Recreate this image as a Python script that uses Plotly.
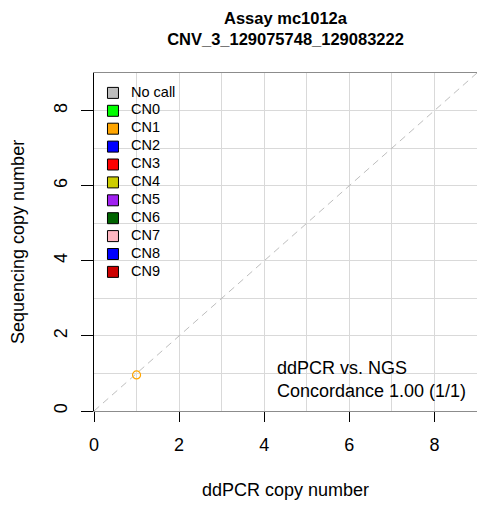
import plotly.graph_objects as go

# ---- data ----
legend_labels = ["No call", "CN0", "CN1", "CN2", "CN3", "CN4", "CN5", "CN6", "CN7", "CN8", "CN9"]
legend_colors = ["#BEBEBE", "#00FF00", "#FFA500", "#0000FF", "#FF0000", "#CDCD00",
                 "#A020F0", "#006400", "#FFB6C1", "#0000FF", "#CD0000"]
ddpcr_cn = [1.0]
ngs_cn = [0.96]
point_colors = ["#FFA500"]
tick_vals = [0, 2, 4, 6, 8]
axis_max = 9
title_lines = ["Assay mc1012a", "CNV_3_129075748_129083222"]
note_lines = ["ddPCR vs. NGS", "Concordance 1.00 (1/1)"]
x_title = "ddPCR copy number"
y_title = "Sequencing copy number"

FONT = "Liberation Sans, Arial, Helvetica, sans-serif"
W, H = 477, 506
L, R, T, B = 94, 0, 73, 95
PW, PH = W - L - R, H - T - B

fig = go.Figure()

# identity line
fig.add_trace(go.Scatter(x=[0, axis_max], y=[0, axis_max], mode="lines",
                         line=dict(color="#BEBEBE", width=1, dash="7px,5px"),
                         hoverinfo="skip", showlegend=False))

# data points
fig.add_trace(go.Scatter(x=ddpcr_cn, y=ngs_cn, mode="markers",
                         marker=dict(symbol="circle-open", size=8,
                                     color=point_colors, line=dict(width=1.2)),
                         showlegend=False))

# manual legend (R-style, inside plot)
n = len(legend_labels)
top_y = 8.47
step = 0.4766
ly = [top_y - i * step for i in range(n)]
fig.add_trace(go.Scatter(x=[0.446] * n, y=ly, mode="markers",
                         marker=dict(symbol="square", size=11, color=legend_colors,
                                     line=dict(color="black", width=1)),
                         hoverinfo="skip", showlegend=False))
fig.add_trace(go.Scatter(x=[0.87] * n, y=ly, mode="text", text=legend_labels,
                         textposition="middle right",
                         textfont=dict(family=FONT, size=14.5, color="black"),
                         hoverinfo="skip", showlegend=False))

fig.add_annotation(x=4.25, y=0.85, xref="x", yref="y", xanchor="left", yanchor="middle",
                   text="<br>".join(note_lines), align="left", showarrow=False,
                   font=dict(family=FONT, size=18, color="black"))

# axis titles
fig.add_annotation(x=0.5, y=(411 - 490) / PH, xref="paper", yref="paper",
                   xanchor="center", yanchor="middle", text=x_title, showarrow=False,
                   font=dict(family=FONT, size=18, color="black"))
fig.add_annotation(x=(18 - L) / PW, y=0.5, xref="paper", yref="paper",
                   xanchor="center", yanchor="middle", text=y_title, showarrow=False,
                   textangle=-90, font=dict(family=FONT, size=18, color="black"))

fig.update_layout(
    width=W, height=H,
    margin=dict(l=L, r=R, t=T, b=B, autoexpand=False),
    paper_bgcolor="white", plot_bgcolor="white",
    font=dict(family=FONT, color="black"),
    title=dict(text="<b>" + "<br>".join(title_lines) + "</b>",
               x=0.5, xref="paper", xanchor="center",
               y=1 - 24 / H, yanchor="middle",
               font=dict(family=FONT, size=16.5, color="black")),
    showlegend=False,
)

fig.update_xaxes(range=[0, axis_max], tickvals=tick_vals, ticks="outside", ticklen=10,
                 tickcolor="black", tickfont=dict(size=18), ticklabelstandoff=7,
                 showgrid=True, gridcolor="#D9D9D9", gridwidth=1,
                 minor=dict(dtick=1, showgrid=True, gridcolor="#D9D9D9", gridwidth=1),
                 showline=True, linecolor="#8C8C8C", linewidth=1, mirror=True,
                 zeroline=False, automargin=False)
fig.update_yaxes(range=[0, axis_max], tickvals=tick_vals, ticks="outside", ticklen=12,
                 tickcolor="black", tickfont=dict(size=18), tickangle=-90, ticklabelstandoff=7,
                 showgrid=True, gridcolor="#D9D9D9", gridwidth=1,
                 minor=dict(dtick=1, showgrid=True, gridcolor="#D9D9D9", gridwidth=1),
                 showline=True, linecolor="black", linewidth=1,
                 zeroline=False, automargin=False)

fig.write_html("out.html", config={"displayModeBar": False},
               post_script="document.body.style.margin='0';document.body.style.overflow='hidden';")
